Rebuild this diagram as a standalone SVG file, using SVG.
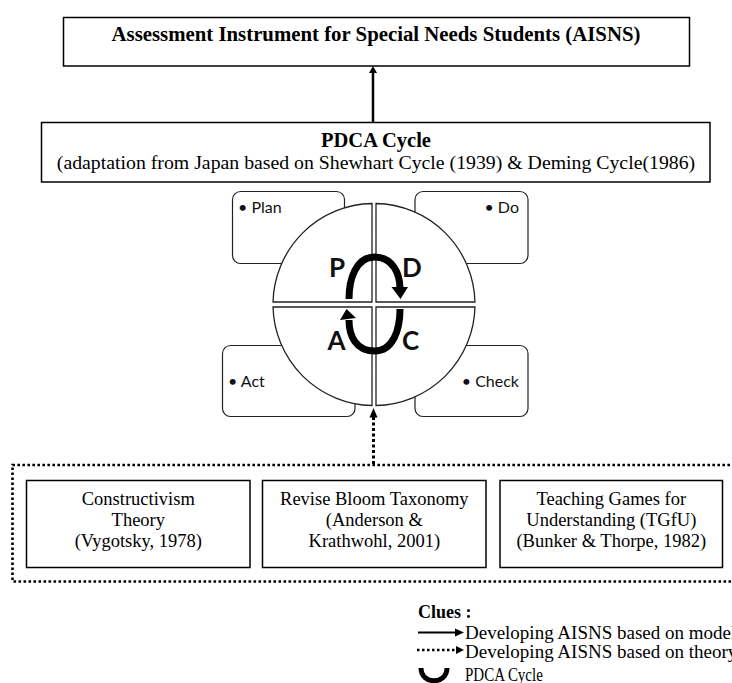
<svg xmlns="http://www.w3.org/2000/svg" width="732" height="683" viewBox="0 0 732 683">
<style>
.box{fill:#fff;stroke:#000;stroke-width:1.5}
.rbox{fill:#fff;stroke:#222;stroke-width:1.2}
.q{fill:#fff;stroke:#222;stroke-width:1.3}
.serif{font-family:"Liberation Serif","Times New Roman",serif;fill:#000}
.b{font-weight:bold}
.sans{font-family:Lato,"Open Sans",sans-serif;fill:#111}
.mid{text-anchor:middle}
.cyc{fill:none;stroke:#000;stroke-width:7}
.dot{fill:none;stroke:#000;stroke-width:2.6;stroke-dasharray:2.6 2.4}
</style>
<rect width="732" height="683" fill="#fff"/>

<g id="n-aisns">
<rect class="box" x="63.5" y="17.5" width="626" height="48.5"/>
<text class="serif b mid" x="376" y="41" font-size="20.8">Assessment Instrument for Special Needs Students (AISNS)</text>
</g>

<g id="n-pdca">
<rect class="box" x="41.5" y="122.5" width="668.5" height="59.5"/>
<text class="serif b mid" x="376" y="147" font-size="20.5">PDCA Cycle</text>
<text class="serif mid" x="376" y="168.5" font-size="19.8">(adaptation from Japan based on Shewhart Cycle (1939) &amp; Deming Cycle(1986)</text>
</g>

<g id="n-plan">
<rect class="rbox" x="232.5" y="191.5" width="112" height="72" rx="8"/>
<text class="sans" x="238" y="213" font-size="16">• Plan</text>
</g>
<g id="n-do">
<rect class="rbox" x="415" y="191.5" width="113" height="72" rx="8"/>
<text class="sans" x="519" y="213" font-size="16" text-anchor="end">• Do</text>
</g>
<g id="n-act">
<rect class="rbox" x="222.5" y="345.5" width="132.5" height="71" rx="8"/>
<text class="sans" x="228" y="387" font-size="16">• Act</text>
</g>
<g id="n-check">
<rect class="rbox" x="415" y="345.5" width="113" height="71" rx="8"/>
<text class="sans" x="519" y="387" font-size="16" text-anchor="end">• Check</text>
</g>

<g id="n-cycle">
<path class="q" d="M372,302 V203.52 A101,101 0 0 0 273.03,302 Z"/>
<path class="q" d="M376,302 V203.52 A101,101 0 0 1 474.97,302 Z"/>
<path class="q" d="M372,307 V405.48 A101,101 0 0 1 273.03,307 Z"/>
<path class="q" d="M376,307 V405.48 A101,101 0 0 0 474.97,307 Z"/>
<path class="cyc" d="M349,299 C349,279 356,257 374.5,257 C393,257 400,274 400,289"/>
<polygon points="391.5,287 408,287 400.5,299" fill="#000"/>
<path class="cyc" d="M400,309 C400,330 393,351 374.5,351 C356,351 349,336 349,320"/>
<polygon points="340,320 356,318 346.5,309" fill="#000"/>
<text class="sans b" x="329" y="277" font-size="26">P</text>
<text class="sans b" x="402" y="277" font-size="26">D</text>
<text class="sans b" x="327.5" y="350" font-size="26">A</text>
<text class="sans b" x="402" y="350" font-size="26">C</text>
</g>

<g id="n-theories">
<path class="dot" d="M740,465 H12.5 V581.5 H740"/>
</g>
<g id="n-constructivism">
<rect class="box" x="26.5" y="480.5" width="223.5" height="87"/>
<text class="serif mid" font-size="18.5"><tspan x="138.3" y="505">Constructivism</tspan><tspan x="138.3" y="526">Theory</tspan><tspan x="138.3" y="547">(Vygotsky, 1978)</tspan></text>
</g>
<g id="n-bloom">
<rect class="box" x="262.5" y="480.5" width="223.5" height="87"/>
<text class="serif mid" font-size="18.5"><tspan x="374.3" y="505">Revise Bloom Taxonomy</tspan><tspan x="374.3" y="526">(Anderson &amp;</tspan><tspan x="374.3" y="547">Krathwohl, 2001)</tspan></text>
</g>
<g id="n-tgfu">
<rect class="box" x="500" y="480.5" width="222.5" height="87"/>
<text class="serif mid" font-size="18.5"><tspan x="611.3" y="505">Teaching Games for</tspan><tspan x="611.3" y="526">Understanding (TGfU)</tspan><tspan x="611.3" y="547">(Bunker &amp; Thorpe, 1982)</tspan></text>
</g>

<g id="connectors">
<line x1="373" y1="122.5" x2="373" y2="72" stroke="#000" stroke-width="2.5"/>
<polygon points="369,73 377,73 373,66" fill="#000"/>
<line x1="373.5" y1="464" x2="373.5" y2="417" stroke="#000" stroke-width="3" stroke-dasharray="3 2.5"/>
<polygon points="369.5,417.5 377.5,417.5 373.5,408" fill="#000"/>
</g>

<g id="legend">
<text class="serif b" x="418" y="618" font-size="18">Clues :</text>
<line x1="418" y1="632.5" x2="456" y2="632.5" stroke="#000" stroke-width="2"/>
<polygon points="455,628.5 464,632.5 455,636.5" fill="#000"/>
<text class="serif" x="465" y="639" font-size="19">Developing AISNS based on model</text>
<line x1="417" y1="650" x2="456" y2="650" stroke="#000" stroke-width="2.5" stroke-dasharray="2.5 2.5"/>
<polygon points="456,646 464,650 456,654" fill="#000"/>
<text class="serif" x="465" y="657.5" font-size="19">Developing AISNS based on theory</text>
<path d="M421,668 C421,685 447,685 447,668" fill="none" stroke="#000" stroke-width="5"/>
<text class="serif" transform="translate(465,681) scale(1,1.3)" font-size="15">PDCA Cycle</text>
</g>
</svg>
